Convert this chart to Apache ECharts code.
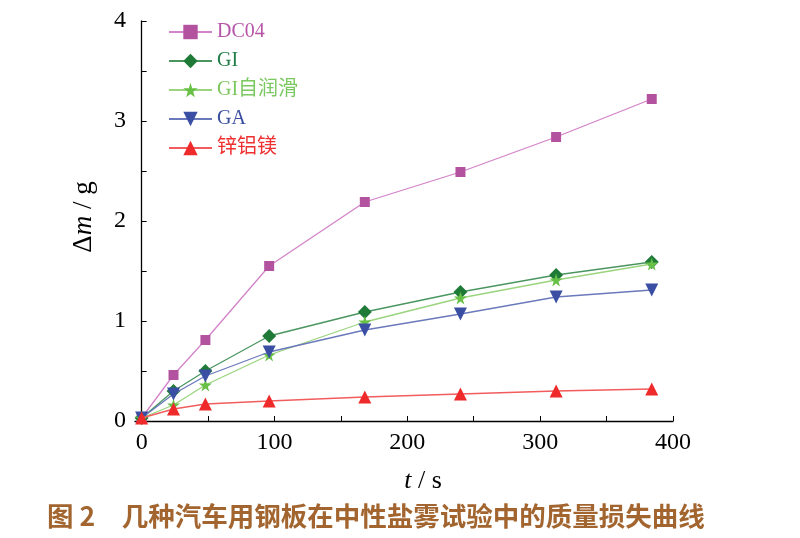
<!DOCTYPE html>
<html>
<head>
<meta charset="utf-8">
<script src="https://cdn.jsdelivr.net/npm/echarts@6/dist/echarts.min.js"></script>
<style>html,body{margin:0;padding:0;background:#fff;}#c{width:800px;height:538px;}</style>
</head>
<body>
<div id="c"></div>
<script>
const times = [0, 24, 48, 96, 168, 240, 312, 384];
const dc04 = [0.03, 0.46, 0.81, 1.55, 2.19, 2.49, 2.84, 3.22];
const gi = [0.03, 0.30, 0.50, 0.85, 1.09, 1.29, 1.46, 1.59];
const giSelf = [0.03, 0.16, 0.36, 0.66, 0.99, 1.23, 1.41, 1.57];
const ga = [0.03, 0.27, 0.45, 0.69, 0.91, 1.07, 1.24, 1.31];
const znAlMg = [0.03, 0.12, 0.17, 0.20, 0.24, 0.27, 0.30, 0.32];
const seriesNames = ['DC04', 'GI', 'GI自润滑', 'GA', '锌铝镁'];
const xTickValues = [0, 50, 100, 150, 200, 250, 300, 350, 400];
const xLabelValues = [0, 100, 200, 300, 400];
const yLabelValues = [0, 1, 2, 3, 4];
const caption = '图 2　几种汽车用钢板在中性盐雾试验中的质量损失曲线';

const serif = "'Liberation Serif', 'Noto Sans CJK SC', serif";
const star = 'path://M50,0 L61,35 L98,35 L68,57 L79,91 L50,70 L21,91 L32,57 L2,35 L39,35 Z';
const styles = [
  {symbol: 'rect', size: 10, rot: 0, mark: '#b3529f', line: '#d383c9', text: '#b554a8'},
  {symbol: 'diamond', size: 14, rot: 0, mark: '#1f7a38', line: '#4a9560', text: '#1f7d48'},
  {symbol: star, size: 13, rot: 0, mark: '#68c046', line: '#9ad47e', text: '#7cc860'},
  {symbol: 'triangle', size: 13, rot: 180, mark: '#3a4ea3', line: '#6a78bc', text: '#3a4ea0'},
  {symbol: 'triangle', size: 13, rot: 0, mark: '#ee2a2a', line: '#f25c5c', text: '#ee3030'}
];
const dataSets = [dc04, gi, giSelf, ga, znAlMg];

const chart = echarts.init(document.getElementById('c'), null, {renderer: 'canvas'});
chart.setOption({
  animation: false,
  backgroundColor: '#fff',
  title: {
    text: caption, left: 47, top: 503, padding: 0,
    textStyle: {fontFamily: "'Noto Sans CJK SC', sans-serif", fontWeight: 'bold', fontSize: 26.5, color: '#a3652f'}
  },
  legend: {
    orient: 'vertical', left: 168, top: 22, padding: 0, itemWidth: 43, itemHeight: 18, itemGap: 9,
    textStyle: {fontFamily: serif, fontSize: 20},
    data: seriesNames.map((n, i) => ({name: n, textStyle: {color: styles[i].text}}))
  },
  grid: {left: 135, right: 127, top: 21, bottom: 117, containLabel: false},
  xAxis: {
    type: 'value', min: -5, max: 400,
    name: '{i|t} / s', nameLocation: 'middle', nameGap: 47,
    nameTextStyle: {fontFamily: serif, fontSize: 26, color: '#000', padding: [0, 0, 0, 38],
      rich: {i: {fontFamily: serif, fontStyle: 'italic', fontSize: 26, color: '#000'}}},
    axisLine: {show: true, lineStyle: {color: '#000', width: 1.3}},
    axisTick: {show: true, inside: true, length: 5, customValues: xTickValues, lineStyle: {color: '#000'}},
    axisLabel: {customValues: xLabelValues, fontFamily: serif, fontSize: 24, color: '#000', margin: 10},
    splitLine: {show: false}
  },
  yAxis: {
    type: 'value', min: 0, max: 4, interval: 0.5,
    name: 'Δ{i|m} / g', nameLocation: 'middle', nameGap: 38, nameRotate: 90,
    nameTextStyle: {fontFamily: serif, fontSize: 27, color: '#000', padding: [0, 0, 0, 8],
      rich: {i: {fontFamily: serif, fontStyle: 'italic', fontSize: 27, color: '#000'}}},
    axisLine: {show: true, lineStyle: {color: '#000', width: 1.3}},
    axisTick: {show: true, inside: true, length: 5, lineStyle: {color: '#000'}},
    axisLabel: {customValues: yLabelValues, fontFamily: serif, fontSize: 24, color: '#000', margin: 9},
    splitLine: {show: false}
  },
  series: dataSets.map((d, i) => ({
    name: seriesNames[i], type: 'line',
    data: times.map((t, j) => [t, d[j]]),
    symbol: styles[i].symbol, symbolSize: styles[i].size, symbolRotate: styles[i].rot,
    showAllSymbol: true,
    itemStyle: {color: styles[i].mark},
    lineStyle: {color: styles[i].line, width: 1.3},
    z: 2 + i
  }))
});
</script>
</body>
</html>
